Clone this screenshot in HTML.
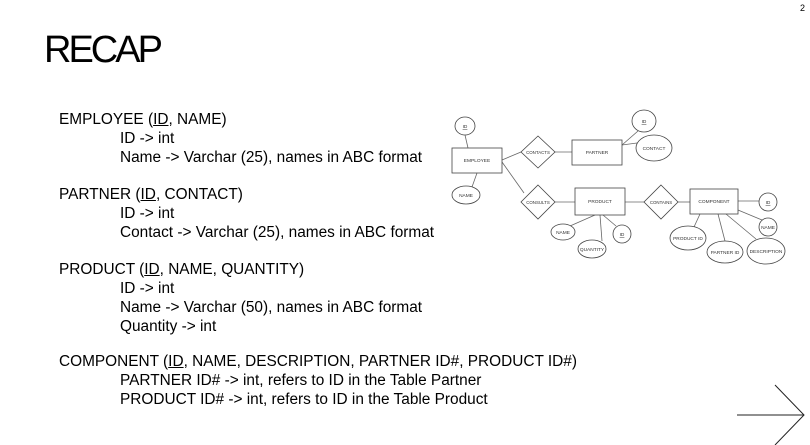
<!DOCTYPE html>
<html><head><style>
body{margin:0;width:810px;height:445px;background:#fff;position:relative;overflow:hidden;font-family:"Liberation Sans",Arial,sans-serif;color:#000}
.t{position:absolute;left:44px;top:29px;font-size:38px;letter-spacing:-3px}
.l{position:absolute;font-size:15.4px;white-space:nowrap;line-height:19px}
.h{left:59px}.s{left:120px}
.pg{position:absolute;right:5px;top:3px;font-size:9px}
</style></head><body>
<div class="pg">2</div>
<div class="t">RECAP</div>
<div class="l h" style="top:110px">EMPLOYEE (<u>ID</u>, NAME)</div>
<div class="l s" style="top:129px">ID -&gt; int</div>
<div class="l s" style="top:148px">Name -&gt; Varchar (25), names in ABC format</div>
<div class="l h" style="top:185px">PARTNER (<u>ID</u>, CONTACT)</div>
<div class="l s" style="top:204px">ID -&gt; int</div>
<div class="l s" style="top:223px">Contact -&gt; Varchar (25), names in ABC format</div>
<div class="l h" style="top:260px">PRODUCT (<u>ID</u>, NAME, QUANTITY)</div>
<div class="l s" style="top:279px">ID -&gt; int</div>
<div class="l s" style="top:298px">Name -&gt; Varchar (50), names in ABC format</div>
<div class="l s" style="top:317px">Quantity -&gt; int</div>
<div class="l h" style="top:352px">COMPONENT (<u>ID</u>, NAME, DESCRIPTION, PARTNER ID#, PRODUCT ID#)</div>
<div class="l s" style="top:371px">PARTNER ID# -&gt; int, refers to ID in the Table Partner</div>
<div class="l s" style="top:390px">PRODUCT ID# -&gt; int, refers to ID in the Table Product</div>
<svg width="810" height="445" style="position:absolute;left:0;top:0" font-family="Liberation Sans,Arial,sans-serif" font-size="4.8" text-anchor="middle">
<g stroke="#666" stroke-width="0.8" fill="none">
<line x1="465" y1="135" x2="468" y2="148"/>
<line x1="477" y1="173" x2="472" y2="187"/>
<line x1="502" y1="160" x2="521" y2="152"/>
<line x1="555" y1="152" x2="572" y2="152"/>
<line x1="502" y1="162" x2="524" y2="193"/>
<line x1="555" y1="202" x2="575" y2="202"/>
<line x1="625" y1="202" x2="644" y2="202"/>
<line x1="678" y1="202" x2="690" y2="202"/>
<line x1="622" y1="145" x2="638" y2="131"/>
<line x1="622" y1="145" x2="637" y2="143"/>
<line x1="738" y1="201" x2="759" y2="201"/>
<line x1="738" y1="210" x2="762" y2="220"/>
<line x1="700" y1="214" x2="694" y2="227"/>
<line x1="718" y1="214" x2="725" y2="241"/>
<line x1="726" y1="214" x2="756" y2="239"/>
<line x1="595" y1="215" x2="570" y2="226"/>
<line x1="600" y1="215" x2="602" y2="241"/>
<line x1="603" y1="215" x2="616" y2="226"/>
</g>
<g stroke="#444" stroke-width="0.8" fill="#fff">
<rect x="452" y="148" width="50" height="25"/>
<rect x="572" y="140" width="50" height="25"/>
<rect x="575" y="188" width="50" height="27"/>
<rect x="690" y="189" width="48" height="25"/>
<polygon points="538,136 555,152 538,168 521,152"/>
<polygon points="538,185 555,202 538,219 521,202"/>
<polygon points="661,185 678,202 661,219 644,202"/>
<ellipse cx="465" cy="126" rx="10" ry="9"/>
<ellipse cx="466" cy="195" rx="14" ry="9"/>
<ellipse cx="644" cy="121" rx="12" ry="11"/>
<ellipse cx="654" cy="148" rx="18" ry="13"/>
<ellipse cx="768" cy="202" rx="9" ry="9"/>
<ellipse cx="768" cy="227" rx="9" ry="9"/>
<ellipse cx="563" cy="232" rx="12" ry="8"/>
<ellipse cx="592" cy="249" rx="14" ry="9"/>
<ellipse cx="622" cy="234" rx="9" ry="9"/>
<ellipse cx="688" cy="238" rx="18" ry="12"/>
<ellipse cx="725" cy="252" rx="18" ry="11"/>
<ellipse cx="766" cy="251" rx="19" ry="13"/>
</g>
<g fill="#333">
<text x="477" y="162">EMPLOYEE</text>
<text x="597" y="154">PARTNER</text>
<text x="600" y="203">PRODUCT</text>
<text x="714" y="203">COMPONENT</text>
<text x="538" y="154" font-size="4.4">CONTACTS</text>
<text x="538" y="204" font-size="4.4">CONSULTS</text>
<text x="661" y="204" font-size="4.4">CONTAINS</text>
<text x="465" y="128" text-decoration="underline">ID</text>
<text x="466" y="197">NAME</text>
<text x="644" y="123" text-decoration="underline">ID</text>
<text x="654" y="150">CONTACT</text>
<text x="768" y="204" text-decoration="underline">ID</text>
<text x="768" y="229">NAME</text>
<text x="563" y="234">NAME</text>
<text x="592" y="251">QUANTITY</text>
<text x="622" y="236" text-decoration="underline">ID</text>
<text x="688" y="240">PRODUCT ID</text>
<text x="725" y="254">PARTNER ID</text>
<text x="766" y="253">DESCRIPTION</text>
</g>
<g stroke="#222" stroke-width="1" fill="none">
<line x1="737" y1="415" x2="804" y2="415"/>
<polyline points="775,385 804,415 775,445"/>
</g>
</svg>
</body></html>
